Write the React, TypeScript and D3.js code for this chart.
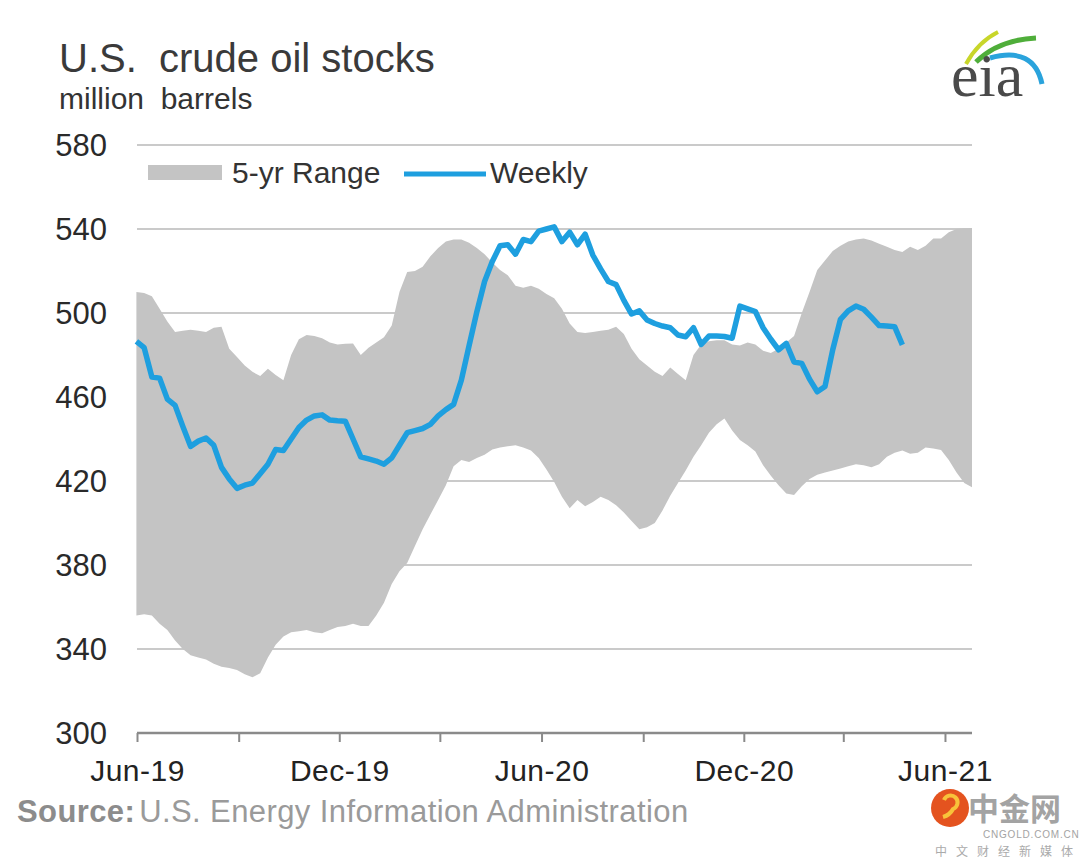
import * as d3 from 'd3';

// weekly stocks, first week ending 2019-05-31
const weekStart = new Date(2019, 4, 31);

const weekly = [
  486.5, 483.5, 469.5, 469, 459, 456, 446, 436.5, 439, 440.5,
  437, 426.5, 421, 416.5, 418, 419, 423.5, 428, 435, 434.5,
  440, 445.5, 449, 451, 451.5, 449, 448.7, 448.5, 440, 431.5,
  430.5, 429.5, 428, 431, 437, 443, 444, 445, 447, 451,
  454, 456.5, 468, 484.5, 500.5, 515, 524.5, 532, 532.5, 528,
  535, 534, 539, 540, 541, 534, 538.5, 532.5, 537.5, 527.5,
  521, 515, 513.5, 506, 499.5, 501, 496.7, 495, 493.8, 493,
  489.5, 488.7, 493, 485, 489, 489, 488.8, 488, 503.3, 502,
  500.7, 493, 487.5, 482.5, 485.5, 476.7, 476, 468.5, 462.5, 465,
  482.5, 497, 501, 503.3, 501.8, 498, 494, 493.8, 493.5, 484.8,
];

// 5-year range, same weekly dates, runs a few weeks past the last report
const rangeHigh = [
  510, 509.5, 508, 502, 496, 491, 491.5, 492, 491.5, 491,
  493, 493.5, 483, 479, 475, 472, 470, 473.5, 470.5, 468,
  480, 487.5, 489.5, 489, 488, 486, 485, 485.3, 485.5, 480,
  483.5, 486, 488.5, 494, 510, 519.5, 520, 522, 527, 531,
  534, 535, 535, 533.5, 531, 528, 524, 520.5, 518, 513,
  512, 513, 511.5, 509, 507, 502, 495, 491, 490.5, 491,
  491.5, 492, 493.5, 490, 483, 478, 475, 472, 470, 474,
  471, 468, 480, 485, 486.5, 487, 487, 485, 484.5, 486,
  485, 482, 481, 483, 486, 489, 500, 510, 520.5, 525,
  529.5, 532, 534, 535, 535.5, 534.5, 533, 531.5, 530, 529,
  531.5, 530, 532, 535.5, 535.5, 538.5, 540, 540.3, 540.5,
];

const rangeLow = [
  356, 356.5, 356, 352, 349, 344, 340, 337, 336, 335,
  333, 331.5, 331, 330, 328, 326.5, 328.5, 336, 342, 346,
  348, 348.5, 349, 348, 347.5, 349, 350.5, 351, 352, 351,
  351, 356, 362, 371, 377, 381, 389, 397, 404, 411,
  418, 427, 430, 429, 431, 432.5, 435, 436, 436.5, 437,
  436, 434.5, 431, 425.5, 419.5, 412.5, 407, 411, 408, 410,
  412.5, 411, 408.5, 405, 401, 397, 398, 400, 406, 413,
  419, 425, 431.5, 437, 443, 447, 449.8, 444, 439.5, 437,
  434, 427.5, 422.5, 418, 414, 413.3, 417.5, 421, 423, 424,
  425, 426, 427, 428, 427.5, 426.5, 428, 431.5, 433.5, 434.5,
  433, 433.5, 436, 435.5, 434.8, 430, 424, 419, 417,
];

const yTicks = [300, 340, 380, 420, 460, 500, 540, 580];
const xLabelMonths = ['Jun-19', 'Dec-19', 'Jun-20', 'Dec-20', 'Jun-21'];

const W = 1088;
const H = 862;
const font = '"Liberation Sans", Arial, sans-serif';
const cjk = '"Noto Sans CJK SC", sans-serif';

const weekDate = (i: number) => d3.timeDay.offset(weekStart, i * 7);

export default function App() {
  const x = d3.scaleTime()
    .domain([new Date(2019, 5, 1), new Date(2021, 5, 25)])
    .range([137.5, 972]);
  const y = d3.scaleLinear().domain([300, 580]).range([733, 145]);

  const band = d3.area<number>()
    .x((_, i) => x(weekDate(i)))
    .y0((_, i) => y(rangeLow[i]))
    .y1(d => y(d));

  const line = d3.line<number>()
    .x((_, i) => x(weekDate(i)))
    .y(d => y(d));

  const ticks = d3.timeMonth.range(new Date(2019, 5, 1), new Date(2021, 5, 2), 3);
  const labelTicks = ticks.filter((_, i) => i % 2 === 0);

  return (
    <div style={{ position: 'absolute', left: 0, top: 0 }}>
      <svg width={W} height={H} style={{ display: 'block', background: '#fff' }} fontFamily={font}>
        {/* title */}
        <text x={59} y={72} fontSize={40} fill="#3a3a3a" style={{ whiteSpace: 'pre' }}>
          {'U.S.  crude oil stocks'}
        </text>
        <text x={59} y={109} fontSize={30} fill="#333" style={{ whiteSpace: 'pre' }}>
          {'million  barrels'}
        </text>

        {/* eia logo */}
        <g>
          <path d="M966,64 Q978,42 998,32" fill="none" stroke="#c8d62a" strokeWidth={4} />
          <path d="M976,62 Q998,40 1036,38" fill="none" stroke="#4fae3a" strokeWidth={5} />
          <path d="M990,58 Q1034,46 1042,84" fill="none" stroke="#2aa3dc" strokeWidth={5} />
          <text x={951} y={96} fontSize={62} fontFamily='"Liberation Serif", "DejaVu Serif", serif' fill="#4a4a4a">eia</text>
        </g>

        {/* grid */}
        {yTicks.slice(1).map(t => (
          <line key={t} x1={137} x2={972} y1={y(t)} y2={y(t)} stroke="#b9b9b9" strokeWidth={1.5} />
        ))}

        {/* 5-yr range */}
        <path d={band(rangeHigh) || ''} fill="#c4c4c4" />

        {/* weekly */}
        <path d={line(weekly) || ''} fill="none" stroke="#1e9fdf" strokeWidth={5.5} strokeLinejoin="round" />

        {/* y labels */}
        {yTicks.map(t => (
          <text key={t} x={107} y={y(t) + 11} fontSize={31} fill="#2a2a2a" textAnchor="end">{t}</text>
        ))}

        {/* x axis */}
        <line x1={137} x2={972} y1={733} y2={733} stroke="#8a8a8a" strokeWidth={2.5} />
        {ticks.map((t, i) => (
          <line key={i} x1={x(t)} x2={x(t)} y1={733} y2={742} stroke="#8a8a8a" strokeWidth={2} />
        ))}
        {labelTicks.map((t, i) => (
          <text key={i} x={x(t)} y={781} fontSize={30} fill="#222" textAnchor="middle" letterSpacing={0.5}>
            {xLabelMonths[i]}
          </text>
        ))}

        {/* legend */}
        <rect x={148} y={165} width={74} height={15} fill="#c4c4c4" />
        <text x={232} y={183} fontSize={30} fill="#333">5-yr Range</text>
        <line x1={404} x2={486} y1={174} y2={174} stroke="#1e9fdf" strokeWidth={5} />
        <text x={490} y={183} fontSize={30} fill="#333">Weekly</text>

        {/* source */}
        <text x={17} y={822} fontSize={31} fill="#8c8c8c" letterSpacing={0.4}>
          <tspan fontWeight="bold">Source:</tspan>
          <tspan dx={4} fill="#9a9a9a">U.S. Energy Information Administration</tspan>
        </text>

        {/* watermark */}
        <g>
          <circle cx={950} cy={808} r={19} fill="#e4531f" />
          <path d="M944,800 a7,7 0 1,1 9,9 q-3,6 -10,8" fill="none" stroke="#f8c23a" strokeWidth={4} />
          <text x={968} y={820} fontSize={31} fontWeight="bold" fill="#a3a3a3" fontFamily={cjk}>中金网</text>
          <text x={983} y={838} fontSize={10} fill="#a3a3a3" letterSpacing={0.8}>CNGOLD.COM.CN</text>
          <text x={935} y={856} fontSize={12} fill="#aaa" letterSpacing={9} fontFamily={cjk}>中文财经新媒体</text>
        </g>
      </svg>
    </div>
  );
}
